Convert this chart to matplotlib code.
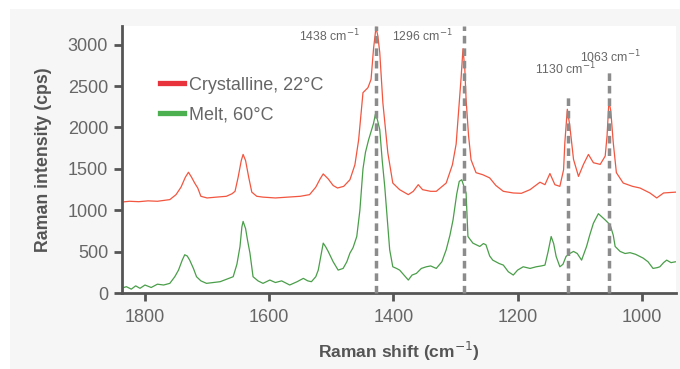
import matplotlib.pyplot as plt
from matplotlib.patches import Rectangle

# Raman spectra (x in cm-1, y in cps)
cryst_x = [1838, 1825, 1810, 1795, 1780, 1770, 1760, 1750, 1742, 1735, 1730, 1725, 1720, 1715,
           1710, 1700, 1685, 1669, 1660, 1655, 1650, 1645, 1642, 1638, 1633, 1628, 1620, 1610,
           1590, 1570, 1550, 1535, 1525, 1518, 1513, 1505, 1497, 1490, 1480, 1470, 1462, 1456,
           1449, 1441, 1436, 1432, 1428, 1425, 1422, 1417, 1409, 1401, 1390, 1376, 1368, 1360,
           1353, 1340, 1331, 1315, 1305, 1299, 1294, 1291, 1288, 1285, 1283, 1279, 1275, 1267,
           1256, 1245, 1235, 1223, 1207, 1194, 1180, 1164, 1156, 1148, 1140, 1132, 1126, 1124,
           1120, 1116, 1110, 1102, 1094, 1086, 1078, 1067, 1059, 1056, 1053, 1050, 1046, 1041,
           1030, 1015, 1003, 987, 976, 965, 946]
cryst_y = [1100, 1110, 1105, 1115, 1110, 1120, 1130, 1190, 1280, 1400, 1460, 1400, 1330, 1270,
           1170, 1150, 1160, 1170, 1200, 1230, 1400, 1600, 1675, 1600, 1400, 1220, 1170, 1160,
           1150, 1160, 1170, 1190, 1280, 1380, 1440, 1380, 1300, 1270, 1290, 1370, 1550, 1850,
           2420, 2480, 2580, 2950, 3210, 3100, 2905, 2300, 1695, 1330, 1250, 1190, 1230, 1310,
           1250, 1230, 1230, 1330, 1550, 1800, 2300, 2600, 2950, 2700, 2340, 1900, 1610, 1455,
           1430, 1392, 1300, 1230, 1210, 1206, 1250, 1340, 1310, 1445, 1310, 1290, 1490, 1815,
           2220, 2020, 1615, 1410, 1555, 1675, 1575, 1555, 1655, 1900, 2320, 2200, 1815, 1455,
           1330, 1290, 1270, 1210, 1150, 1210, 1220]

melt_x = [1838, 1830, 1822, 1815, 1808, 1800, 1790, 1780, 1770, 1760, 1752, 1746, 1740, 1736,
          1732, 1728, 1722, 1717, 1710, 1701, 1690, 1679, 1665, 1658, 1652, 1647, 1644, 1642,
          1638, 1635, 1631, 1626, 1618, 1610, 1599, 1590, 1580, 1567, 1555, 1545, 1538, 1532,
          1525, 1521, 1516, 1513, 1509, 1505, 1497, 1489, 1481, 1475, 1470, 1465, 1459, 1454,
          1449, 1445, 1440, 1436, 1432, 1429, 1426, 1422, 1418, 1414, 1410, 1406, 1401, 1395,
          1390, 1383, 1376, 1370, 1363, 1355, 1347, 1340, 1331, 1322, 1315, 1309, 1304, 1298,
          1294, 1290, 1287, 1283, 1280, 1272, 1261, 1255, 1251, 1245, 1240, 1230, 1223, 1215,
          1207, 1200, 1191, 1180, 1170, 1162, 1156, 1151, 1146, 1142, 1138, 1132, 1127, 1122,
          1116, 1110, 1104, 1097, 1089, 1084, 1078, 1070, 1064, 1059, 1051, 1046, 1043, 1035,
          1027, 1019, 1010, 998, 990, 982, 975, 971, 965, 960, 953, 946]
melt_y = [60, 80, 50, 90, 60, 100, 70, 110, 100, 120, 200, 280, 400, 465,
          450, 400, 300, 200, 150, 120, 130, 140, 180, 200, 350, 565, 800, 867,
          780, 645, 485, 200, 150, 120, 160, 130, 150, 100, 140, 180, 150, 140,
          200, 280, 480, 605, 560, 505, 380, 280, 300, 380, 485, 550, 685, 1000,
          1500, 1700, 1850, 1950, 2050, 2160, 2100, 1975, 1600, 1290, 900, 525, 320, 300,
          280, 220, 160, 220, 240, 300, 320, 330, 300, 380, 525, 700, 885, 1200,
          1350, 1370, 1300, 1210, 685, 605, 565, 600, 585, 450, 400, 360, 340, 260,
          220, 280, 320, 300, 320, 330, 340, 500, 685, 600, 445, 320, 350, 445,
          480, 505, 480, 400, 565, 700, 845, 960, 920, 885, 825, 700, 565, 505,
          480, 490, 470, 425, 380, 300, 310, 320, 370, 400, 370, 380]

# marked peaks: where the dashed line sits, its label, and how high it goes
peak_pos = [1428, 1286, 1119, 1053]
peak_labels = ["1438 cm$^{-1}$", "1296 cm$^{-1}$", "1130 cm$^{-1}$", "1063 cm$^{-1}$"]
peak_tops = [3224, 3224, 2390, 2680]

plt.rcParams['font.family'] = ['Liberation Sans', 'DejaVu Sans']
axis_col = '#555555'
text_col = '#666666'

fig = plt.figure(figsize=(6.8, 3.69), dpi=100, facecolor='white')
# light grey card behind the chart
bg = Rectangle((10 / 680, 0), 1 - 10 / 680, 1 - 9 / 369, transform=fig.transFigure,
               facecolor='#f6f6f6', edgecolor='none', zorder=-10)
fig.add_artist(bg)
ax = fig.add_axes([122 / 680, 1 - 293.3 / 369, 554 / 680, 267.3 / 369])
ax.set_zorder(1)
ax.set_facecolor('white')

ax.plot(cryst_x, cryst_y, color='#f25640', lw=0.9, zorder=2)
ax.plot(melt_x, melt_y, color='#4a9e4a', lw=0.9, zorder=2)

for pos, lab, top in zip(peak_pos, peak_labels, peak_tops):
    ax.plot([pos, pos], [0, top], color='#8c8c8c', lw=2.5,
            linestyle=(0, (2.2, 1.4)), zorder=3, clip_on=False)

ax.annotate(peak_labels[0], (peak_pos[0], 3224), xytext=(-12, -7), textcoords='offset points',
            ha='right', va='center', fontsize=8.8, color=text_col)
ax.annotate(peak_labels[1], (peak_pos[1], 3224), xytext=(-8, -7), textcoords='offset points',
            ha='right', va='center', fontsize=8.8, color=text_col)
ax.annotate(peak_labels[2], (peak_pos[2], peak_tops[2]), xytext=(-2, 19), textcoords='offset points',
            ha='center', va='center', fontsize=8.8, color=text_col)
ax.annotate(peak_labels[3], (peak_pos[3], peak_tops[3]), xytext=(1, 10), textcoords='offset points',
            ha='center', va='center', fontsize=8.8, color=text_col)

# legend drawn with proxy lines
h1, = ax.plot([], [], color='#e8323c', lw=3.8, label='Crystalline, 22°C')
h2, = ax.plot([], [], color='#4caf50', lw=3.8, label='Melt, 60°C')
leg = ax.legend(handles=[h1, h2], loc='upper left', bbox_to_anchor=(0.055, 0.838),
                frameon=False, fontsize=13, handlelength=1.35, handletextpad=0.3,
                labelspacing=0.72, borderaxespad=0)
for t in leg.get_texts():
    t.set_color(text_col)

ax.set_xlim(1837, 945)
ax.set_ylim(0, 3224)
ax.set_xticks([1800, 1600, 1400, 1200, 1000])
ax.set_yticks([0, 500, 1000, 1500, 2000, 2500, 3000])

for side in ['top', 'right']:
    ax.spines[side].set_visible(False)
for side in ['left', 'bottom']:
    ax.spines[side].set_color(axis_col)
    ax.spines[side].set_linewidth(2)
ax.tick_params(direction='out', length=6, width=2, color=axis_col,
               labelcolor=text_col, labelsize=13)
ax.tick_params(axis='y', pad=4)
ax.tick_params(axis='x', pad=5)

ax.set_ylabel('Raman intensity (cps)', fontsize=12.8, fontweight='bold', color=axis_col, labelpad=11)
ax.set_xlabel('Raman shift (cm$^{-1}$)', fontsize=12.6, fontweight='bold', color=axis_col, labelpad=10)

fig.savefig('out.png', dpi=100, facecolor=fig.get_facecolor())
